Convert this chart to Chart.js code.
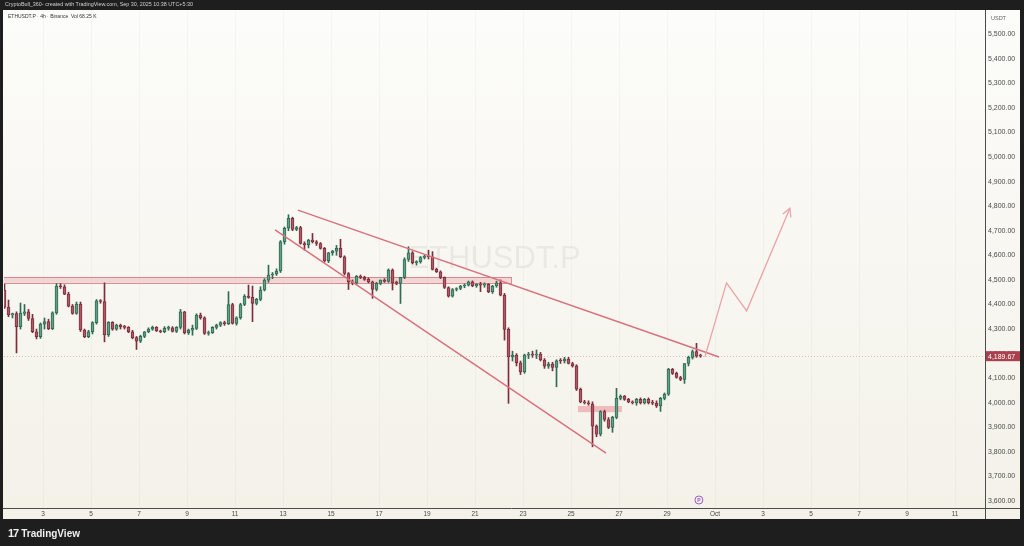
<!DOCTYPE html>
<html>
<head>
<meta charset="utf-8">
<script src="https://cdn.jsdelivr.net/npm/chart.js@4.4.1/dist/chart.umd.min.js"></script>
<style>
  html, body { margin: 0; padding: 0; width: 1024px; height: 546px; background: #1e1e1e; overflow: hidden; font-family: 'Liberation Sans', Arial, sans-serif; }
  #panel { position: absolute; left: 3px; top: 10px; width: 1017px; height: 509px; background: linear-gradient(#fcfcfa, #f3f1e8); }
  #chart { position: absolute; left: 0; top: 0; }
  #header { position: absolute; left: 5px; top: 1px; font-size: 5.4px; line-height: 7px; color: #d0d0d0; white-space: nowrap; }
  #info { position: absolute; left: 8px; top: 13px; font-size: 5px; line-height: 7px; color: #333; white-space: nowrap; }
  #footer { position: absolute; left: 8px; top: 527px; color: #f0f0f0; white-space: nowrap; font-size: 10px; line-height: 12px; font-weight: 600; }
  #footer b { font-size: 11px; font-weight: 900; letter-spacing: -1px; margin-right: 3px; }
</style>
</head>
<body>
<div id="panel"></div>
<canvas id="chart" width="1024" height="546"></canvas>
<div id="header">CryptoBull_360- created with TradingView.com, Sep 30, 2025 10:38 UTC+5:30</div>
<div id="info">ETHUSDT.P · 4h · Binance&nbsp; Vol 68.25 K</div>
<div id="footer"><b>17</b>TradingView</div>
<script>
// 4h candles, ETHUSDT.P, first candle Sep 1 09:30 (UTC+5:30)
const firstCandleDay = 1 + 9.5 / 24;   // x axis unit = day of September
const candleStepDays = 4 / 24;

const opens = [
  4459,4389,4357,4363,4310,4364,4370,4343,4289,4269,4320,4330,4302,4366,4475,4472,4442,4393,4364,4402,
  4296,4269,4289,4326,4415,4412,4276,4327,4300,4316,4309,4307,4289,4265,4251,4270,4289,4300,4307,4293,
  4289,4303,4305,4290,4307,4370,4285,4295,4303,4357,4346,4282,4285,4307,4316,4326,4322,4400,4323,4346,
  4400,4434,4429,4404,4421,4459,4499,4520,4524,4536,4655,4710,4750,4705,4713,4648,4642,4662,4655,4648,
  4628,4577,4610,4617,4628,4594,4526,4492,4488,4515,4510,4502,4492,4461,4486,4499,4494,4540,4488,4486,
  4510,4583,4610,4570,4574,4591,4596,4594,4543,4533,4510,4469,4434,4461,4465,4475,4479,4492,4475,4482,
  4479,4482,4452,4475,4488,4438,4299,4187,4194,4163,4126,4194,4198,4194,4198,4174,4149,4158,4144,4171,
  4170,4178,4160,4150,4055,4004,4000,3995,3905,3872,3964,3932,3900,3941,4018,4027,4014,4004,4000,4014,
  4000,4014,4000,3998,3987,4018,4035,4136,4120,4103,4095,4160,4185,4208,4190
];
const highs = [
  4483,4418,4365,4370,4406,4400,4380,4360,4300,4325,4345,4340,4370,4485,4485,4480,4450,4400,4410,4410,
  4300,4295,4330,4420,4420,4488,4330,4330,4320,4320,4315,4310,4295,4270,4275,4290,4305,4312,4310,4296,
  4310,4312,4310,4310,4380,4372,4300,4316,4362,4365,4350,4292,4310,4320,4330,4332,4452,4405,4350,4405,
  4440,4479,4475,4425,4472,4505,4560,4530,4545,4660,4715,4765,4755,4718,4718,4655,4665,4689,4660,4652,
  4632,4612,4620,4640,4665,4598,4530,4500,4518,4520,4515,4508,4495,4490,4500,4505,4545,4545,4495,4510,
  4590,4635,4615,4578,4595,4600,4621,4615,4548,4537,4512,4472,4465,4468,4478,4484,4495,4496,4485,4490,
  4488,4485,4478,4495,4500,4445,4305,4210,4200,4170,4198,4205,4210,4215,4205,4180,4165,4165,4175,4180,
  4185,4185,4165,4155,4060,4010,4008,4004,3910,3968,3970,3940,3945,4059,4032,4030,4018,4008,4018,4020,
  4018,4020,4010,4008,4022,4040,4140,4140,4125,4108,4160,4190,4215,4242,4198
];
const lows = [
  4384,4350,4345,4203,4300,4355,4335,4285,4260,4262,4300,4298,4298,4360,4465,4440,4390,4360,4360,4290,
  4265,4265,4280,4320,4405,4248,4270,4295,4295,4300,4300,4285,4260,4217,4245,4265,4285,4295,4290,4285,
  4285,4295,4288,4286,4300,4280,4278,4275,4298,4340,4278,4275,4282,4300,4310,4315,4318,4320,4316,4340,
  4395,4425,4330,4398,4415,4455,4490,4505,4518,4530,4645,4700,4700,4700,4645,4621,4630,4650,4640,4625,
  4572,4570,4600,4600,4590,4520,4461,4480,4482,4505,4498,4488,4425,4455,4480,4490,4490,4459,4480,4404,
  4505,4575,4565,4560,4568,4585,4585,4540,4530,4505,4465,4430,4430,4455,4460,4468,4475,4472,4470,4452,
  4470,4448,4445,4470,4435,4255,3998,4170,4150,4115,4120,4180,4185,4180,4170,4140,4140,4130,4065,4160,
  4162,4158,4145,4050,4000,3995,3990,3821,3862,3865,3925,3895,3880,3935,4012,4010,4000,3995,3990,3995,
  3995,3995,3992,3981,3965,4012,4030,4115,4100,4090,4079,4150,4178,4185,4185
];
const closes = [
  4389,4357,4363,4310,4364,4370,4343,4289,4269,4320,4330,4302,4366,4475,4472,4442,4393,4364,4402,4296,
  4269,4289,4326,4415,4412,4276,4327,4300,4316,4309,4307,4289,4265,4251,4270,4289,4300,4307,4293,4289,
  4303,4305,4290,4307,4370,4285,4295,4303,4357,4346,4282,4285,4307,4316,4326,4322,4400,4323,4346,4400,
  4434,4429,4404,4421,4459,4499,4520,4524,4536,4655,4710,4750,4705,4713,4648,4642,4662,4655,4648,4628,
  4577,4610,4617,4628,4594,4526,4492,4488,4515,4510,4502,4492,4461,4486,4499,4494,4540,4488,4486,4510,
  4583,4610,4570,4574,4591,4596,4594,4543,4533,4510,4469,4434,4461,4465,4475,4479,4492,4475,4482,4479,
  4482,4452,4475,4488,4438,4299,4187,4194,4163,4126,4194,4198,4194,4198,4174,4149,4158,4144,4171,4170,
  4178,4160,4150,4055,4004,4000,3995,3905,3872,3964,3932,3900,3941,4018,4027,4014,4004,4000,4014,4000,
  4014,4000,3998,3987,4018,4035,4136,4120,4103,4095,4160,4185,4208,4190,4189.67
];

// axis ticks (x in days of September; 31 = Oct 1)
const dayTicks = [3,5,7,9,11,13,15,17,19,21,23,25,27,29,31,33,35,37,39,41];
const dayTickLabels = ['3','5','7','9','11','13','15','17','19','21','23','25','27','29','Oct','3','5','7','9','11'];
const priceTicks = [3600,3700,3800,3900,4000,4100,4200,4300,4400,4500,4600,4700,4800,4900,5000,5100,5200,5300,5400,5500];

// drawings, in [day, price]
const upperTrend = [[13.62, 4784], [31.17, 4186]];
const lowerTrend = [[12.67, 4703], [26.46, 3795]];
const projection = [[30.58, 4187], [31.48, 4488], [32.32, 4374], [34.12, 4791]];
const resistanceZone = { from: 1.0, to: 22.5, low: 4488, high: 4512 };
const supportZone = { from: 25.29, to: 27.12, low: 3962, high: 3987 };
const eventMarkerDay = 30.33;

const lastPrice = closes[closes.length - 1];

const candleDays = opens.map((o, i) => firstCandleDay + i * candleStepDays);
const isUp = opens.map((o, i) => closes[i] >= o);

const upFill = '#62a086', upLine = '#2f6a52';
const downFill = '#ab5a67', downLine = '#7d2e3c';
const trendColor = '#d9717d';

const toXY = pts => pts.map(p => ({ x: p[0], y: p[1] }));

const drawingsPlugin = {
  id: 'drawings',
  beforeDatasetsDraw(chart) {
    const { ctx, chartArea: a, scales: { x, y } } = chart;
    ctx.save();
    ctx.beginPath();
    ctx.rect(a.left, a.top, a.right - a.left, a.bottom - a.top);
    ctx.clip();

    // watermark
    ctx.font = '31px "Liberation Sans", Arial, sans-serif';
    ctx.fillStyle = 'rgba(60,60,60,0.07)';
    ctx.textAlign = 'center';
    ctx.textBaseline = 'middle';
    ctx.fillText('ETHUSDT.P', (a.left + a.right) / 2, (a.top + a.bottom) / 2);

    // current price dotted line
    const py = Math.round(y.getPixelForValue(lastPrice)) + 0.5;
    ctx.strokeStyle = 'rgba(190,80,90,0.35)';
    ctx.lineWidth = 1;
    ctx.setLineDash([1, 2]);
    ctx.beginPath();
    ctx.moveTo(a.left, py);
    ctx.lineTo(a.right, py);
    ctx.stroke();
    ctx.setLineDash([]);

    // zones
    const zone = (z, fill, stroke) => {
      const x1 = x.getPixelForValue(z.from), x2 = x.getPixelForValue(z.to);
      const y1 = y.getPixelForValue(z.high), y2 = y.getPixelForValue(z.low);
      ctx.fillStyle = fill;
      ctx.fillRect(x1, y1, x2 - x1, y2 - y1);
      if (stroke) {
        ctx.strokeStyle = stroke;
        ctx.strokeRect(Math.round(x1) + 0.5, Math.round(y1) + 0.5, Math.round(x2 - x1), Math.round(y2 - y1));
      }
    };
    zone(resistanceZone, 'rgba(232,160,165,0.38)', 'rgba(205,110,120,0.75)');
    zone(supportZone, 'rgba(235,140,150,0.55)', null);
    ctx.restore();
  },
  afterDatasetsDraw(chart) {
    const { ctx } = chart;
    // arrow head at end of projection path
    const pts = chart.getDatasetMeta(4).data;
    const p1 = pts[pts.length - 2], p2 = pts[pts.length - 1];
    const ang = Math.atan2(p2.y - p1.y, p2.x - p1.x);
    const len = 9;
    ctx.save();
    ctx.strokeStyle = '#eba3a8';
    ctx.lineWidth = 1.3;
    ctx.beginPath();
    ctx.moveTo(p2.x - len * Math.cos(ang - 0.5), p2.y - len * Math.sin(ang - 0.5));
    ctx.lineTo(p2.x, p2.y);
    ctx.lineTo(p2.x - len * Math.cos(ang + 0.5), p2.y - len * Math.sin(ang + 0.5));
    ctx.stroke();
    ctx.restore();
  },
  afterDraw(chart) {
    const { ctx, chartArea: a, scales: { x, y } } = chart;
    ctx.save();
    // axis frame lines
    ctx.strokeStyle = '#4d4d4d';
    ctx.lineWidth = 1;
    ctx.beginPath();
    ctx.moveTo(a.right + 0.5, a.top);
    ctx.lineTo(a.right + 0.5, x.bottom);
    ctx.moveTo(3, a.bottom + 0.5);
    ctx.lineTo(1020, a.bottom + 0.5);
    ctx.stroke();

    // USDT label
    ctx.font = '5.5px "Liberation Sans", Arial, sans-serif';
    ctx.fillStyle = '#666';
    ctx.textAlign = 'left';
    ctx.textBaseline = 'middle';
    ctx.fillText('USDT', a.right + 6, a.top + 8);

    // last price label
    const py = y.getPixelForValue(lastPrice);
    ctx.fillStyle = '#a8404d';
    ctx.fillRect(a.right + 1, py - 5, 34, 10);
    ctx.fillStyle = '#ffffff';
    ctx.font = '7px "Liberation Sans", Arial, sans-serif';
    ctx.fillText(lastPrice.toLocaleString('en-US', { minimumFractionDigits: 2 }), a.right + 3, py + 0.5);

    // event marker
    const ex = x.getPixelForValue(eventMarkerDay), ey = a.bottom - 8;
    ctx.strokeStyle = '#9a5cc6';
    ctx.lineWidth = 1;
    ctx.beginPath();
    ctx.arc(ex, ey, 4, 0, Math.PI * 2);
    ctx.stroke();
    ctx.fillStyle = '#9a5cc6';
    ctx.font = 'bold 5px "Liberation Sans", Arial, sans-serif';
    ctx.textAlign = 'center';
    ctx.fillText('P', ex, ey + 0.5);
    ctx.restore();
  }
};

new Chart(document.getElementById('chart'), {
  type: 'bar',
  data: {
    datasets: [
      {
        label: 'wicks',
        data: candleDays.map((d, i) => ({ x: d, y: [lows[i], highs[i]] })),
        backgroundColor: isUp.map(u => u ? upLine : downLine),
        barThickness: 1,
        grouped: false,
        order: 3
      },
      {
        label: 'bodies',
        data: candleDays.map((d, i) => ({ x: d, y: [opens[i], closes[i]] })),
        backgroundColor: isUp.map(u => u ? upFill : downFill),
        borderColor: isUp.map(u => u ? upLine : downLine),
        borderWidth: 1,
        borderSkipped: false,
        barThickness: 3,
        minBarLength: 1,
        grouped: false,
        order: 2
      },
      {
        type: 'line', label: 'upper',
        data: toXY(upperTrend),
        borderColor: trendColor, borderWidth: 1.5, pointRadius: 0, fill: false, order: 1
      },
      {
        type: 'line', label: 'lower',
        data: toXY(lowerTrend),
        borderColor: trendColor, borderWidth: 1.5, pointRadius: 0, fill: false, order: 1
      },
      {
        type: 'line', label: 'projection',
        data: toXY(projection),
        borderColor: '#eba3a8', borderWidth: 1.3, pointRadius: 0, fill: false, order: 0
      }
    ]
  },
  options: {
    responsive: false,
    animation: false,
    layout: { padding: { left: 4, top: 10, right: 4, bottom: 27 } },
    plugins: { legend: { display: false }, tooltip: { enabled: false } },
    scales: {
      x: {
        type: 'linear',
        min: 1.375,
        max: 42.25,
        offset: false,
        afterFit: s => { s.height = 11; },
        afterBuildTicks: s => { s.ticks = dayTicks.map(v => ({ value: v })); },
        ticks: {
          autoSkip: false,
          maxRotation: 0,
          padding: 2,
          color: '#4a4a4a',
          font: { size: 6.5, family: '"Liberation Sans", Arial, sans-serif' },
          callback: (v) => dayTickLabels[dayTicks.indexOf(v)]
        },
        grid: { color: 'rgba(0,0,0,0.025)', drawTicks: false, offset: false },
        border: { display: false }
      },
      y: {
        type: 'linear',
        position: 'right',
        min: 3572,
        max: 5598,
        afterFit: s => { s.width = 35; },
        afterBuildTicks: s => { s.ticks = priceTicks.map(v => ({ value: v })); },
        ticks: {
          padding: 3,
          color: '#4a4a4a',
          font: { size: 7, family: '"Liberation Sans", Arial, sans-serif' },
          callback: v => v.toLocaleString('en-US', { minimumFractionDigits: 2 })
        },
        grid: { display: false, drawTicks: false },
        border: { display: false }
      }
    }
  },
  plugins: [drawingsPlugin]
});
</script>
</body>
</html>
